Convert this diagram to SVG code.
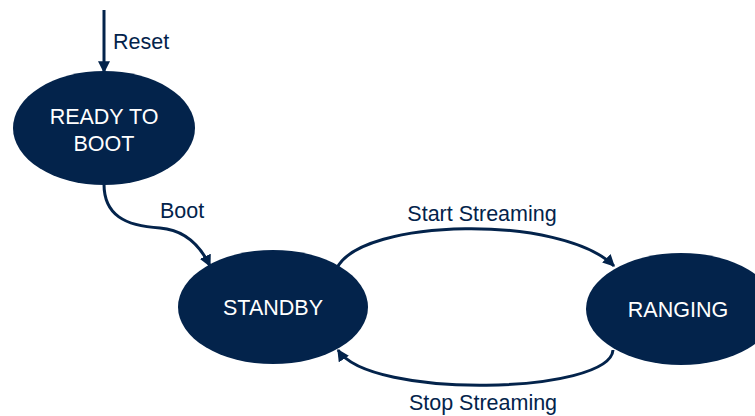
<svg xmlns="http://www.w3.org/2000/svg" width="755" height="416" viewBox="0 0 755 416">
  <style>
    .state { fill: #03234b; }
    .state-label { fill: #ffffff; font-family: "Liberation Sans", Arial, sans-serif; font-size: 21.5px; text-anchor: middle; }
    .edge { fill: none; stroke: #03234b; stroke-width: 3; marker-end: url(#arrow); }
    .edge-label { fill: #03234b; font-family: "Liberation Sans", Arial, sans-serif; font-size: 21.5px; }
  </style>
  <defs>
    <marker id="arrow" viewBox="0 0 10 10" refX="9" refY="5" markerWidth="4" markerHeight="4" orient="auto" markerUnits="strokeWidth">
      <path d="M0,0 L10,5 L0,10 Z" fill="#03234b"/>
    </marker>
  </defs>
  <rect width="755" height="416" fill="#ffffff"/>

  <g id="connectors">
    <g id="edge-reset">
      <path class="edge" d="M104,10 L104,72"/>
      <text class="edge-label" x="113" y="49">Reset</text>
    </g>
    <g id="edge-boot">
      <path class="edge" d="M104,184 C104,215 125,226 160,228 C185,230 200,245 210,266"/>
      <text class="edge-label" x="160" y="218">Boot</text>
    </g>
    <g id="edge-start">
      <path class="edge" d="M337,268 C362,218 562,214 614,266"/>
      <text class="edge-label" x="482" y="221" text-anchor="middle">Start Streaming</text>
    </g>
    <g id="edge-stop">
      <path class="edge" d="M613,350 C610,394 370,400 338,350"/>
      <text class="edge-label" x="483" y="410" text-anchor="middle">Stop Streaming</text>
    </g>
  </g>

  <g id="node-ready">
    <ellipse class="state" cx="104" cy="128" rx="91" ry="57"/>
    <text class="state-label" x="104" y="124">READY TO</text>
    <text class="state-label" x="104" y="151">BOOT</text>
  </g>
  <g id="node-standby">
    <ellipse class="state" cx="273" cy="307" rx="95" ry="57"/>
    <text class="state-label" x="273" y="315">STANDBY</text>
  </g>
  <g id="node-ranging">
    <ellipse class="state" cx="681" cy="309" rx="95" ry="56"/>
    <text class="state-label" x="678" y="317">RANGING</text>
  </g>
</svg>
